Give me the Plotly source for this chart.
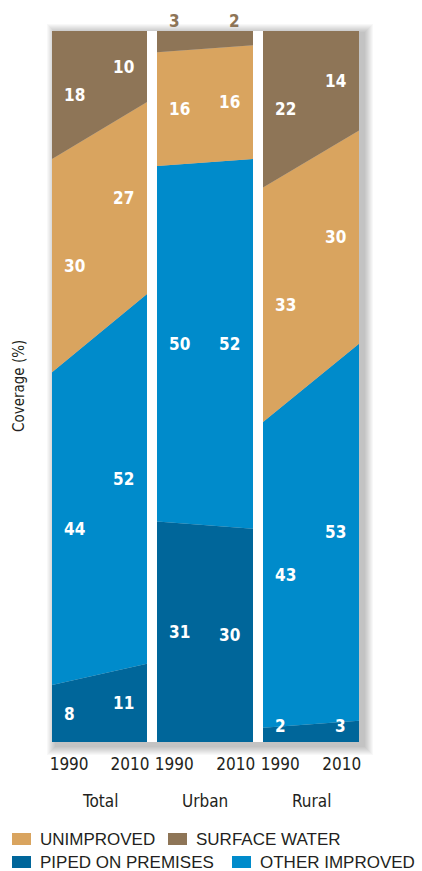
import plotly.graph_objects as go

# ------------------------------------------------------------------
# Data
# ------------------------------------------------------------------

GROUPS = ["Total", "Urban", "Rural"]
YEARS = ["1990", "2010"]
SERIES = ["PIPED ON PREMISES", "OTHER IMPROVED", "UNIMPROVED", "SURFACE WATER"]

PIPED = {"Total": [8, 11], "Urban": [31, 30], "Rural": [2, 3]}
OTHER_IMPROVED = {"Total": [44, 52], "Urban": [50, 52], "Rural": [43, 53]}
UNIMPROVED = {"Total": [30, 27], "Urban": [16, 16], "Rural": [33, 30]}
SURFACE_WATER = {"Total": [18, 10], "Urban": [3, 2], "Rural": [22, 14]}

COLORS = {
    "PIPED ON PREMISES": "#00669A",
    "OTHER IMPROVED": "#008BCB",
    "UNIMPROVED": "#D9A45F",
    "SURFACE WATER": "#8E7557",
}

NARROW = "DejaVu Sans Condensed, Liberation Sans Narrow, Liberation Sans, sans-serif"
TEXT_COLOR = "#231F20"

# ------------------------------------------------------------------
# Layout geometry (pixels)
# ------------------------------------------------------------------

W, H = 422, 871
LEFT, RIGHT, TOP, BOTTOM = 52, 359, 31, 742
PANELS = [(52, 147), (157, 253), (263, 359)]
PW = RIGHT - LEFT
PH = BOTTOM - TOP


def px_x(px):
    return (px - LEFT) / PW


def px_y(py):
    return (BOTTOM - py) / PH


fig = go.Figure()

values = {
    "PIPED ON PREMISES": PIPED,
    "OTHER IMPROVED": OTHER_IMPROVED,
    "UNIMPROVED": UNIMPROVED,
    "SURFACE WATER": SURFACE_WATER,
}

for i, group in enumerate(GROUPS):
    sfx = "" if i == 0 else str(i + 1)
    for name in SERIES:
        fig.add_trace(
            go.Scatter(
                x=[0, 1],
                y=values[name][group],
                mode="lines",
                line=dict(width=0, color=COLORS[name]),
                fillcolor=COLORS[name],
                stackgroup=f"g{i}",
                name=name,
                showlegend=False,
                xaxis=f"x{sfx}",
                yaxis=f"y{sfx}",
                hoverinfo="skip",
            )
        )

    # value labels
    for j, anchor in enumerate(["left", "right"]):
        xpos = 10 / 95 if j == 0 else 1 - 11 / 95
        base = 0
        for name in SERIES:
            v = values[name][group][j]
            if group == "Urban" and name == "SURFACE WATER":
                # thin band: label sits above the panel, in the band colour
                yref, y, color = "paper", px_y(21), COLORS[name]
            else:
                yref, y, color = f"y{sfx}", max(base + v / 2, 2.2), "white"
            fig.add_annotation(
                x=xpos,
                y=y,
                xref=f"x{sfx}",
                yref=yref,
                text=f"<b>{v}</b>",
                showarrow=False,
                xanchor=anchor,
                yanchor="middle",
                font=dict(family=NARROW, size=17, color=color),
            )
            base += v

    # group label
    x0, x1 = PANELS[i]
    fig.add_annotation(
        x=px_x((x0 + x1) / 2),
        y=px_y(801),
        xref="paper",
        yref="paper",
        text=group,
        showarrow=False,
        xanchor="center",
        yanchor="middle",
        font=dict(family=NARROW, size=17, color=TEXT_COLOR),
    )

    domain = [px_x(x0), px_x(x1)]
    fig.update_layout(
        {
            f"xaxis{sfx}": dict(
                domain=domain,
                range=[0, 1],
                tickvals=[0.18, 0.82],
                ticktext=YEARS,
                showgrid=False,
                zeroline=False,
                showline=False,
                ticks="",
                ticklabelstandoff=10,
                automargin=False,
                tickfont=dict(family=NARROW, size=17, color=TEXT_COLOR),
                fixedrange=True,
            ),
            f"yaxis{sfx}": dict(
                range=[0, 100],
                anchor=f"x{sfx}",
                showticklabels=False,
                showgrid=False,
                zeroline=False,
                showline=False,
                ticks="",
                automargin=False,
                fixedrange=True,
            ),
        }
    )

fig.add_annotation(
    x=px_x(19),
    y=px_y(386),
    xref="paper",
    yref="paper",
    text="Coverage (%)",
    textangle=-90,
    showarrow=False,
    xanchor="center",
    yanchor="middle",
    font=dict(family=NARROW, size=15, color=TEXT_COLOR),
)

# ------------------------------------------------------------------
# Drop shadow behind the panel group
# ------------------------------------------------------------------

shapes = []
for k in range(1, 10):
    shapes.append(
        dict(
            type="rect",
            xref="paper",
            yref="paper",
            x0=px_x(LEFT + 4 - k),
            x1=px_x(RIGHT + 5 + k),
            y0=px_y(BOTTOM + 4 + k),
            y1=px_y(TOP + 2 - k),
            fillcolor="rgba(0,0,0,0.028)",
            line=dict(width=0),
            layer="below",
        )
    )
for (a, b) in [(PANELS[0][1], PANELS[1][0]), (PANELS[1][1], PANELS[2][0])]:
    shapes.append(
        dict(
            type="rect",
            xref="paper",
            yref="paper",
            x0=px_x(a),
            x1=px_x(b),
            y0=px_y(BOTTOM),
            y1=px_y(TOP),
            fillcolor="white",
            line=dict(width=0),
            layer="below",
        )
    )

# ------------------------------------------------------------------
# Legend (manual, two rows)
# ------------------------------------------------------------------

LEGEND = [
    ("UNIMPROVED", 12, 839),
    ("SURFACE WATER", 168, 839),
    ("PIPED ON PREMISES", 12, 862),
    ("OTHER IMPROVED", 232, 862),
]
for name, lx, ly in LEGEND:
    shapes.append(
        dict(
            type="rect",
            xref="paper",
            yref="paper",
            x0=px_x(lx),
            x1=px_x(lx + 19),
            y0=px_y(ly + 6),
            y1=px_y(ly - 6),
            fillcolor=COLORS[name],
            line=dict(width=0),
        )
    )
    fig.add_annotation(
        x=px_x(lx + 26),
        y=px_y(ly),
        xref="paper",
        yref="paper",
        text=name,
        showarrow=False,
        xanchor="left",
        yanchor="middle",
        font=dict(family="Liberation Sans, Arial, sans-serif", size=17, color=TEXT_COLOR),
    )

fig.update_layout(
    shapes=shapes,
    width=W,
    height=H,
    margin=dict(l=LEFT, r=W - RIGHT, t=TOP, b=H - BOTTOM),
    paper_bgcolor="white",
    plot_bgcolor="rgba(0,0,0,0)",
    showlegend=False,
)

# page body has a default 8px margin; drop it so the figure sits at (0, 0)
fig.write_html(
    "out.html",
    config={"displayModeBar": False},
    post_script="document.body.style.margin = '0';",
)
